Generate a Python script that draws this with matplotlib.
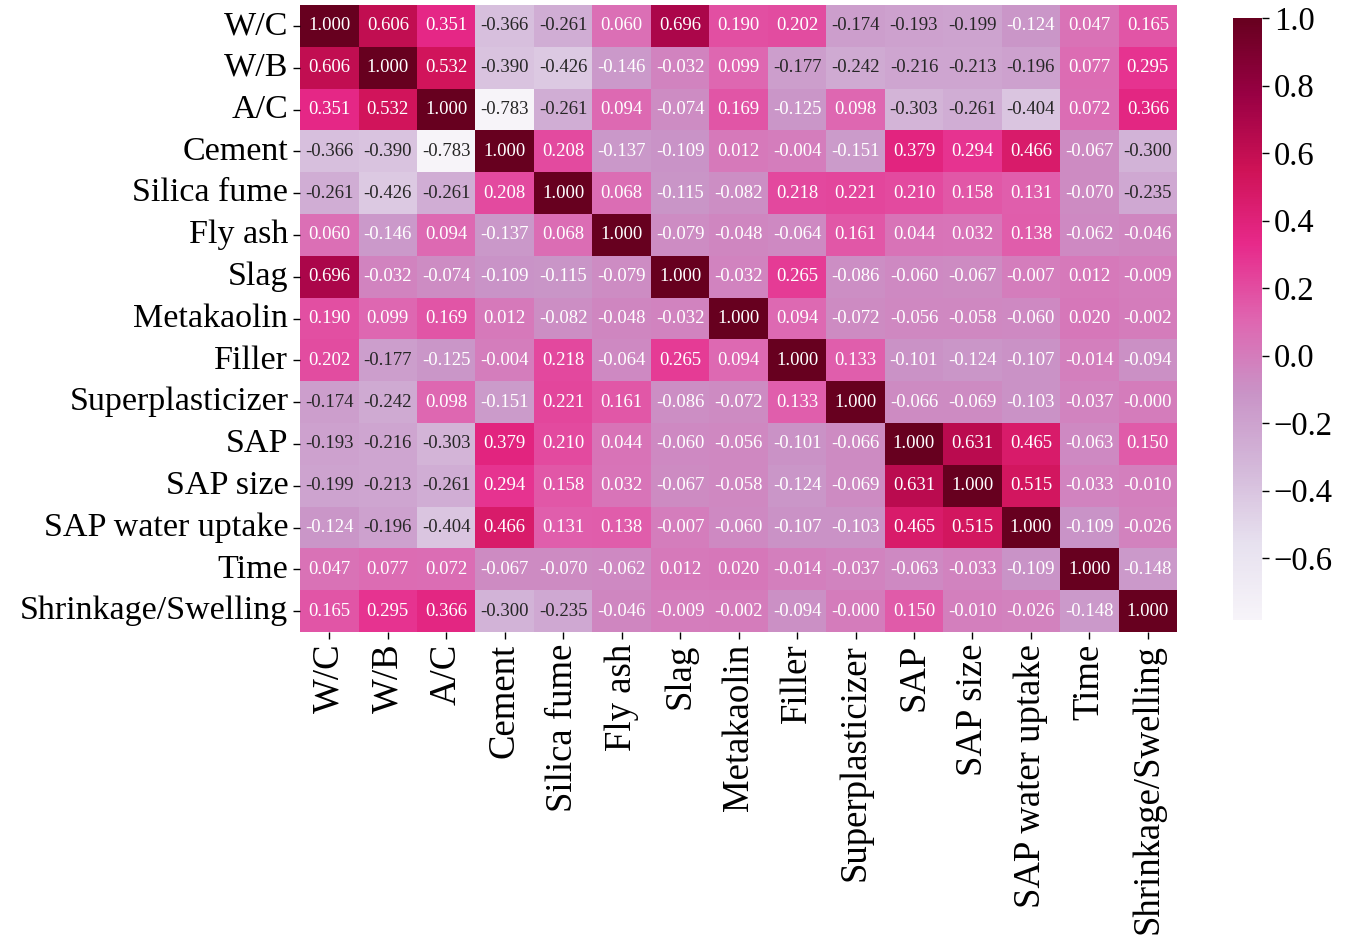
import matplotlib
matplotlib.use("Agg")
import matplotlib.pyplot as plt
import numpy as np
import pandas as pd
import seaborn as sns

labels = ["W/C", "W/B", "A/C", "Cement", "Silica fume", "Fly ash", "Slag",
          "Metakaolin", "Filler", "Superplasticizer", "SAP", "SAP size",
          "SAP water uptake", "Time", "Shrinkage/Swelling"]

# upper triangle of the correlation matrix, row by row
r_wc = [1.000, 0.606, 0.351, -0.366, -0.261, 0.060, 0.696, 0.190, 0.202, -0.174, -0.193, -0.199, -0.124, 0.047, 0.165]
r_wb = [1.000, 0.532, -0.390, -0.426, -0.146, -0.032, 0.099, -0.177, -0.242, -0.216, -0.213, -0.196, 0.077, 0.295]
r_ac = [1.000, -0.783, -0.261, 0.094, -0.074, 0.169, -0.125, 0.098, -0.303, -0.261, -0.404, 0.072, 0.366]
r_cem = [1.000, 0.208, -0.137, -0.109, 0.012, -0.004, -0.151, 0.379, 0.294, 0.466, -0.067, -0.300]
r_sf = [1.000, 0.068, -0.115, -0.082, 0.218, 0.221, 0.210, 0.158, 0.131, -0.070, -0.235]
r_fa = [1.000, -0.079, -0.048, -0.064, 0.161, 0.044, 0.032, 0.138, -0.062, -0.046]
r_slag = [1.000, -0.032, 0.265, -0.086, -0.060, -0.067, -0.007, 0.012, -0.009]
r_mk = [1.000, 0.094, -0.072, -0.056, -0.058, -0.060, 0.020, -0.002]
r_fil = [1.000, 0.133, -0.101, -0.124, -0.107, -0.014, -0.094]
r_sp = [1.000, -0.066, -0.069, -0.103, -0.037, -0.0004]
r_sap = [1.000, 0.631, 0.465, -0.063, 0.150]
r_size = [1.000, 0.515, -0.033, -0.010]
r_wu = [1.000, -0.109, -0.026]
r_time = [1.000, -0.148]
r_shr = [1.000]

rows = [r_wc, r_wb, r_ac, r_cem, r_sf, r_fa, r_slag, r_mk, r_fil, r_sp,
        r_sap, r_size, r_wu, r_time, r_shr]

n = len(labels)
corr = np.zeros((n, n))
for i, r in enumerate(rows):
    corr[i, i:] = r
    corr[i:, i] = r
df = pd.DataFrame(corr, index=labels, columns=labels)

plt.rcParams["font.family"] = ["Liberation Serif", "DejaVu Serif"]
plt.rcParams["axes.unicode_minus"] = True

fig = plt.figure(figsize=(13.48, 9.46), dpi=100)
ax = fig.add_axes([0.2226, 0.3319, 0.6506, 0.6628])
cax = fig.add_axes([0.9147, 0.3446, 0.0215, 0.6364])

sns.heatmap(df, ax=ax, cbar_ax=cax, cmap="PuRd", annot=True, fmt=".3f",
            annot_kws={"size": 13.5})

ax.tick_params(axis="both", length=5, width=1)
ax.set_xticklabels(labels, rotation=90, fontsize=26.5)
ax.set_yticklabels(labels, rotation=0, fontsize=24.5, va="center")

cax.tick_params(labelsize=23.5, length=5, width=1)
cax.set_yticks([-0.6, -0.4, -0.2, 0.0, 0.2, 0.4, 0.6, 0.8, 1.0])

fig.savefig("out.png", dpi=100)
